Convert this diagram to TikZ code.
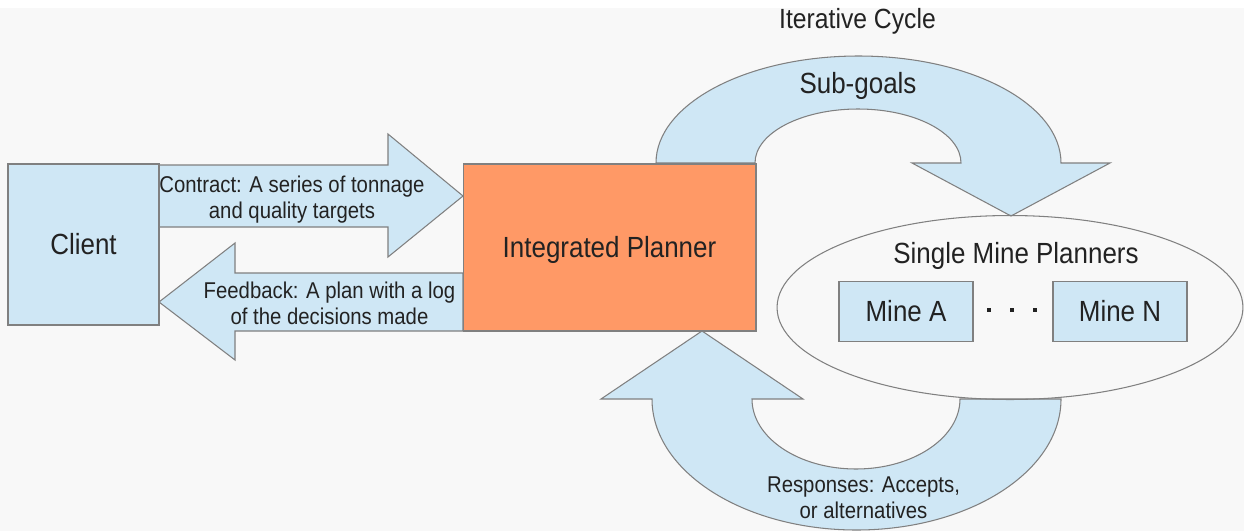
\documentclass[tikz,border=0pt]{standalone}
\usepackage{fontspec}
\setmainfont[FakeStretch=0.89]{Liberation Sans}
\usepackage{xcolor}
\usepackage{tikz}
\usetikzlibrary{shapes.geometric}

\definecolor{boxblue}{RGB}{207,231,245}
\definecolor{planorange}{RGB}{255,153,102}
\definecolor{edgegray}{RGB}{128,128,128}
\definecolor{backgray}{RGB}{248,248,248}
\definecolor{textdark}{RGB}{34,34,34}

\tikzset{
  unitbox/.style={draw=edgegray, line width=0.6pt, fill=boxblue, inner sep=0pt,
    text height=11.9pt, text depth=0pt, text=textdark, font=\fontsize{16.6}{20}\selectfont},
  bigarrow/.style={draw=edgegray, line width=0.6pt, fill=boxblue, line join=miter},
  arrowlabel/.style={align=center, inner sep=0pt, text=textdark, font=\fontsize{13}{14.74}\selectfont},
  plaintext/.style={inner sep=0pt, text height=11.9pt, text depth=0pt, text=textdark,
    font=\fontsize{16.6}{20}\selectfont},
}

\begin{document}
\begin{tikzpicture}[x=0.02cm, y=0.02cm]
    % Background
    \useasboundingbox (0,0) rectangle (1244,-531);
    \fill[backgray] (0,0) rectangle (1244,-531);
    \fill[white] (0,0) rectangle (1244,-8);

    % Draw the cycle arrows
    \draw[bigarrow] (656,-163) arc[start angle=180, end angle=0, x radius=202.5, y radius=107]
        -- (1110,-163) -- (1011,-216) -- (912,-163) -- (961,-163)
        arc[start angle=0, end angle=180, x radius=103, y radius=54] -- cycle;
    \draw[bigarrow] (1061,-399) arc[start angle=0, end angle=-180, x radius=204.5, y radius=131]
        -- (601,-399) -- (702,-331) -- (803,-399) -- (752,-399)
        arc[start angle=180, end angle=360, x radius=104, y radius=70] -- cycle;

    % Draw the client arrows
    \draw[bigarrow] (159,-165) -- (388,-165) -- (388,-134) -- (463,-196)
        -- (388,-257) -- (388,-227) -- (159,-227) -- cycle;
    \draw[bigarrow] (463,-273) -- (235,-273) -- (235,-243) -- (159,-302)
        -- (235,-360) -- (235,-331) -- (463,-331) -- cycle;

    % Place boxes
    \node[unitbox, minimum width=3.02cm, minimum height=3.22cm] (client) at (83.5,-244.5) {Client};
    \node[unitbox, fill=planorange, minimum width=5.86cm, minimum height=3.34cm] (planner) at (609.5,-247.5) {Integrated Planner};
    \node[draw=edgegray, line width=0.6pt, ellipse, minimum width=9.32cm, minimum height=3.68cm] (single) at (1010,-307.5) {};
    \node[plaintext] (singlelabel) at (1016,-253.5) {Single Mine Planners};
    \node[unitbox, minimum width=2.68cm, minimum height=1.2cm] (minea) at (906,-311.5) {Mine A};
    \node[unitbox, minimum width=2.68cm, minimum height=1.2cm] (minen) at (1120,-311.5) {Mine N};

    % Dots between the mines
    \foreach \dx in {988.7, 1012, 1035}
        \fill[textdark] (\dx-2,-308) rectangle (\dx+2,-312);

    % Labels
    \node[plaintext, text height=11.3pt, font=\fontsize{15.8}{19}\selectfont] (cycle) at (857.5,-19) {Iterative Cycle};
    \node[plaintext] (subgoals) at (858,-83.5) {Sub-goals};
    \node[arrowlabel] (contract) at (292,-200) {Contract: A series of tonnage\\and quality targets};
    \node[arrowlabel] (feedback) at (329.5,-303) {Feedback: A plan with a log\\of the decisions made};
    \node[arrowlabel] (responses) at (863.5,-497.7) {Responses: Accepts,\\or alternatives};
\end{tikzpicture}
\end{document}
